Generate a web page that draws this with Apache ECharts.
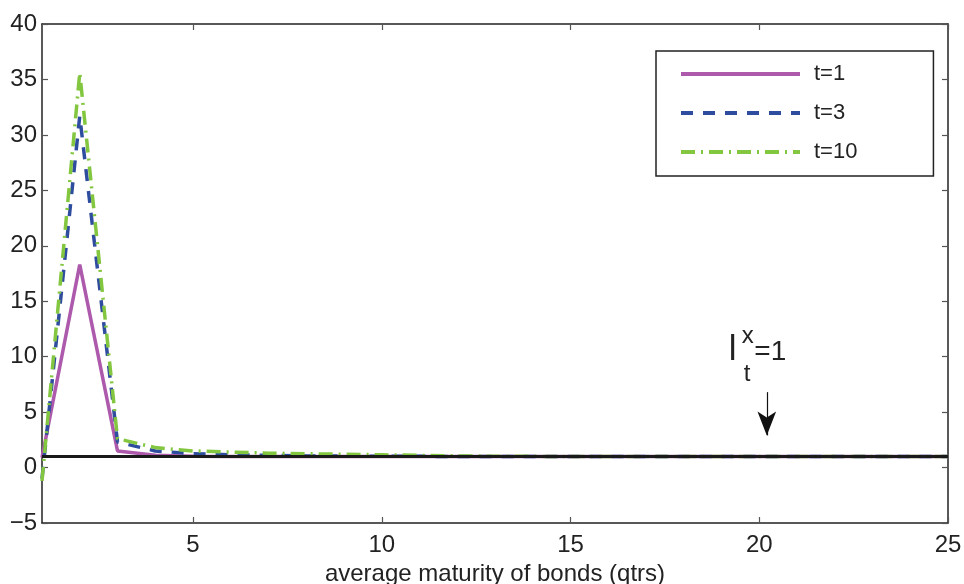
<!DOCTYPE html>
<html><head><meta charset="utf-8">
<script src="https://cdn.jsdelivr.net/npm/echarts@6/dist/echarts.min.js"></script>
<style>html,body{margin:0;padding:0;background:#fff}#c{width:964px;height:584px}</style>
</head><body><div id="c"></div>
<script>
const maturity = [1,2,3,4,5,6,7,8,9,10,11,12,13,14,15,16,17,18,19,20,21,22,23,24,25];
const t1  = [0.9,18.3,1.5,1.1,1.02,1,1,1,1,1,1,1,1,1,1,1,1,1,1,1,1,1,1,1,1];
const t3  = [-1.0,31.7,2.3,1.5,1.25,1.15,1.1,1.05,1.03,1.02,1.01,1,1,1,1,1,1,1,1,1,1,1,1,1,1];
const t10 = [-1.2,35.6,2.6,1.8,1.5,1.4,1.3,1.25,1.2,1.15,1.1,1.05,1.02,1.01,1,1,1,1,1,1,1,1,1,1,1];
const baseline = [1,1];
const baselineX = [1,25];
const xTicks = [5,10,15,20,25];
const seriesNames = ['t=1','t=3','t=10'];
const arrowX = 20.2, arrowTop = 6.8, arrowBottom = 2.9;

const chart = echarts.init(document.getElementById('c'), null, {renderer:'canvas'});
const font = 'Liberation Sans, Arial, sans-serif';
const toPairs = (ys) => maturity.map((x,i)=>[x, ys[i]]);
const axisCommon = {
  axisLine:{show:true, onZero:false, lineStyle:{color:'#222', width:1.5}},
  axisTick:{show:true, inside:true, length:6, lineStyle:{color:'#555', width:1.2}},
  splitLine:{show:false}
};
chart.setOption({
  animation:false,
  grid:{left:42, right:16, top:24, bottom:61, outerBoundsMode:'none', containLabel:false},
  legend:{
    left:656, top:51, orient:'vertical',
    padding:[11,76,12,23], itemGap:15, itemWidth:119, itemHeight:4,
    borderColor:'#222', borderWidth:1.5, backgroundColor:'#fff',
    itemStyle:{opacity:0},
    lineStyle:{width:4},
    textStyle:{fontFamily:font, fontSize:22, lineHeight:24, color:'#222', padding:[0,0,0,9]},
    data:seriesNames
  },
  xAxis:[
    Object.assign({}, axisCommon, {type:'value', min:1, max:25, position:'bottom',
      axisTick:Object.assign({}, axisCommon.axisTick, {customValues:xTicks}),
      axisLabel:{customValues:xTicks, fontFamily:font, fontSize:24, color:'#222', margin:10},
      name:'average maturity of bonds (qtrs)', nameLocation:'middle', nameGap:38,
      nameTextStyle:{fontFamily:font, fontSize:24, color:'#222'}}),
    Object.assign({}, axisCommon, {type:'value', min:1, max:25, position:'top',
      axisTick:Object.assign({}, axisCommon.axisTick, {customValues:xTicks}),
      axisLabel:{show:false}})
  ],
  yAxis:[
    Object.assign({}, axisCommon, {type:'value', min:-5, max:40, interval:5, position:'left',
      axisLabel:{fontFamily:font, fontSize:24, color:'#222', margin:5,
        formatter:v=> v<0 ? '\u2212'+Math.abs(v) : String(v)}}),
    Object.assign({}, axisCommon, {type:'value', min:-5, max:40, interval:5, position:'right',
      axisLabel:{show:false}})
  ],
  series:[
    {name:'baseline', type:'line', data:baselineX.map((x,i)=>[x,baseline[i]]), symbol:'none',
      lineStyle:{color:'#1a1a1a', width:3}, z:10, silent:true},
    {name:seriesNames[0], type:'line', data:toPairs(t1), symbol:'none',
      lineStyle:{color:'#ad5aac', width:3.5}, itemStyle:{color:'#ad5aac'}, z:3},
    {name:seriesNames[1], type:'line', data:toPairs(t3), symbol:'none',
      lineStyle:{color:'#2f4d9f', width:3.5, type:[12,10]}, itemStyle:{color:'#2f4d9f'}, z:4},
    {name:seriesNames[2], type:'line', data:toPairs(t10), symbol:'none',
      lineStyle:{color:'#83c63f', width:3.5, type:[14,6,2,6]}, itemStyle:{color:'#83c63f'}, z:5,
      markLine:{silent:true, symbol:['none','arrow'], symbolSize:[14,24], label:{show:false},
        lineStyle:{color:'#111', width:1.2, type:'solid'},
        data:[[{coord:[arrowX, arrowTop]},{coord:[arrowX, arrowBottom]}]]}}
  ]
});
const p = chart.convertToPixel({xAxisIndex:0, yAxisIndex:0}, [arrowX, arrowTop]);
const tx = (dx, dy, text, size) => ({type:'text', x:p[0]+dx, y:p[1]+dy, silent:true,
  style:{text:text, fontFamily:font, fontSize:size, fill:'#222', align:'left', verticalAlign:'middle'}});
chart.setOption({graphic:[
  tx(-38, -42, 'l', 35),
  tx(-25, -56, 'x', 24),
  tx(-23, -18, 't', 24),
  tx(-12.5, -40, '=1', 28)
]});
</script></body></html>
